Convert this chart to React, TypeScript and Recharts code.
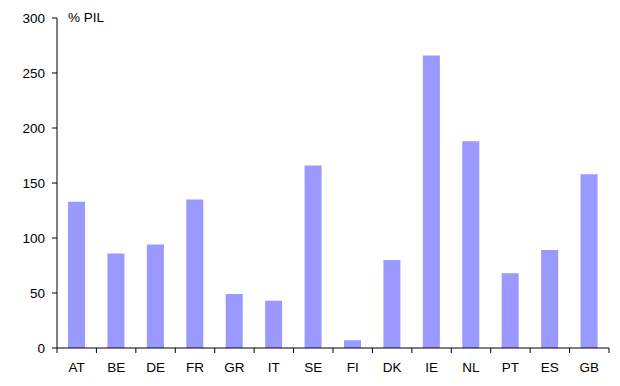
import { Bar, BarChart, XAxis, YAxis } from 'recharts'

const countries = ['AT', 'BE', 'DE', 'FR', 'GR', 'IT', 'SE', 'FI', 'DK', 'IE', 'NL', 'PT', 'ES', 'GB']
const values = [133, 86, 94, 135, 49, 43, 166, 7, 80, 266, 188, 68, 89, 158]
const yTicks = [0, 50, 100, 150, 200, 250, 300]

const data = countries.map((name, i) => ({ name, value: values[i] }))

const font = 'Arial, "Liberation Sans", sans-serif'

// x ticks sit on the category boundaries, labels in the middle
function CountryTick(props: any) {
  const { x, y, payload, index, visibleTicksCount } = props
  const half = payload?.offset ?? 552 / 14 / 2
  return (
    <g>
      <line x1={x - half} x2={x - half} y1={y} y2={y + 5} stroke='#000' />
      {index === visibleTicksCount - 1 && (
        <line x1={x + half} x2={x + half} y1={y} y2={y + 5} stroke='#000' />
      )}
      <text x={x} y={y + 24} textAnchor='middle' fontSize={13.5} fill='#000' fontFamily={font}>
        {payload.value}
      </text>
    </g>
  )
}

export default function App() {
  return (
    <div style={{ position: 'absolute', left: 0, top: 0, width: 620, height: 386, background: '#fff' }}>
      <BarChart
        width={620}
        height={386}
        data={data}
        margin={{ top: 18, right: 11, bottom: 8, left: 0 }}
        barSize={17}
      >
        <XAxis
          dataKey='name'
          height={30}
          stroke='#000'
          tickLine={false}
          tickSize={0}
          tickMargin={0}
          interval={0}
          tick={<CountryTick />}
        />
        <YAxis
          width={57}
          domain={[0, 300]}
          ticks={yTicks}
          stroke='#000'
          tickSize={5}
          tickMargin={7}
          tick={{ fill: '#000', fontSize: 13.5, fontFamily: font }}
          interval={0}
        />
        <Bar dataKey='value' fill='#9999FF' isAnimationActive={false} />
      </BarChart>
      <div
        style={{
          position: 'absolute',
          left: 68,
          top: 10,
          fontSize: 13.5,
          fontFamily: font,
          color: '#000',
        }}
      >
        % PIL
      </div>
    </div>
  )
}
